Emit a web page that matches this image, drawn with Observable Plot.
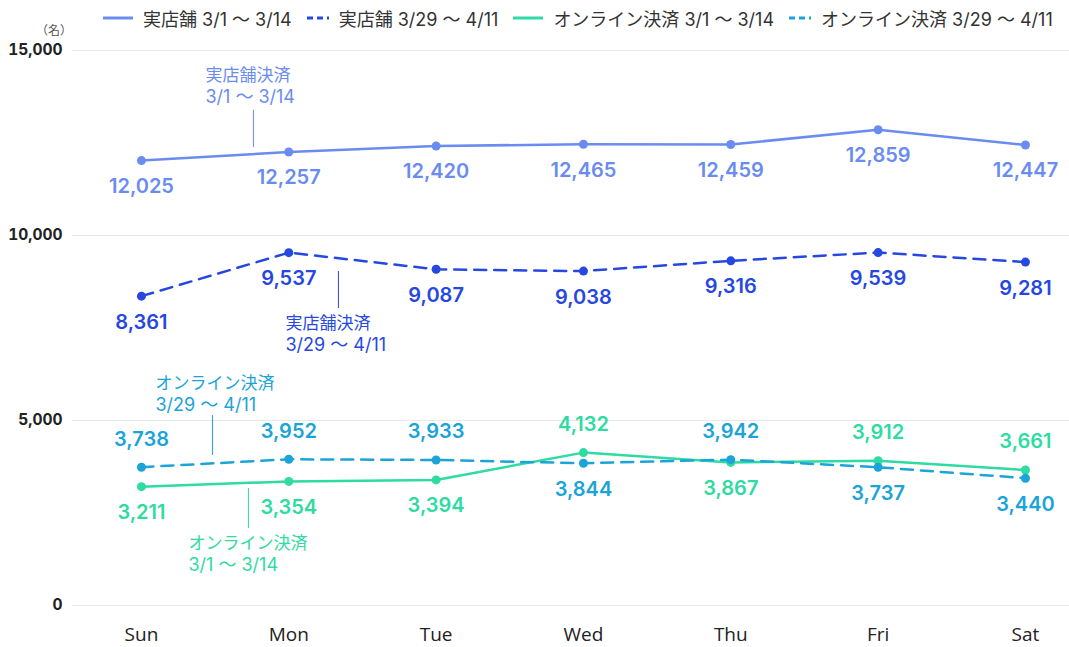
<!DOCTYPE html>
<html>
<head>
<meta charset="utf-8">
<script src="https://cdn.jsdelivr.net/npm/d3@7"></script>
<script src="https://cdn.jsdelivr.net/npm/@observablehq/plot@0.6"></script>
<style>
  html, body { margin: 0; padding: 0; background: #fff; }
  body { width: 1069px; height: 647px; position: relative; overflow: hidden;
         font-family: Inter, "Noto Sans CJK JP", sans-serif; }
  #legend { position: absolute; top: 5px; left: 103px; display: flex; align-items: center;
            font-size: 18px; color: #333; white-space: nowrap; }
  .item { display: flex; align-items: center; margin-right: 15px; }
  .item svg { margin-right: 10px; }
  #unit { position: absolute; top: 21px; left: 36px; font-size: 12px; color: #555; font-family: "Noto Sans CJK JP", sans-serif; }
</style>
</head>
<body>
<div id="chart"></div>
<div id="legend"></div>
<div id="unit">（名）</div>
<script>
const days = ["Sun", "Mon", "Tue", "Wed", "Thu", "Fri", "Sat"];
const storeEarly  = [12025, 12257, 12420, 12465, 12459, 12859, 12447];
const storeLate   = [8361, 9537, 9087, 9038, 9316, 9539, 9281];
const onlineEarly = [3211, 3354, 3394, 4132, 3867, 3912, 3661];
const onlineLate  = [3738, 3952, 3933, 3844, 3942, 3737, 3440];
const yTicks = [0, 5000, 10000, 15000];

const seriesNames = ["実店舗 3/1 ～ 3/14", "実店舗 3/29 ～ 4/11", "オンライン決済 3/1 ～ 3/14", "オンライン決済 3/29 ～ 4/11"];
const seriesColors = ["#6a8cf0", "#2648e0", "#2edba2", "#1ba4d8"];
const seriesDashed = [false, true, false, true];
const seriesValues = [storeEarly, storeLate, onlineEarly, onlineLate];

// annotation texts and anchors (x in day index, y in value units)
const annotLines1 = ["実店舗決済", "実店舗決済", "オンライン決済", "オンライン決済"];
const annotLines2 = ["3/1 ～ 3/14", "3/29 ～ 4/11", "3/1 ～ 3/14", "3/29 ～ 4/11"];
const annotTextX = [0.434, 0.977, 0.319, 0.095];
const annotTextY = [14324, 7622, 1676, 6000];
const annotLineX = [0.76, 1.337, 0.726, 0.482];
const annotLineY1 = [13378, 9027, 3162, 5135];
const annotLineY2 = [12378, 8027, 2081, 4054];

const rows = [];
seriesValues.forEach((vals, s) => {
  vals.forEach((v, i) => {
    let above = false;
    if (s === 2) above = v > onlineLate[i];
    if (s === 3) above = v >= onlineEarly[i];
    rows.push({series: s, day: i, value: v, above});
  });
});

const annots = annotLines1.map((t, k) => ({
  k, t1: t, t2: annotLines2[k], tx: annotTextX[k], ty: annotTextY[k],
  lx: annotLineX[k], ly1: annotLineY1[k], ly2: annotLineY2[k]
}));

const fmt = d3.format(",");
const numFont = "Inter, 'Noto Sans', sans-serif";
const marks = [
  Plot.ruleY(yTicks, {stroke: "#e8e8e8", strokeWidth: 1}),
];
seriesValues.forEach((vals, s) => {
  const data = rows.filter(r => r.series === s);
  marks.push(Plot.line(data, {x: "day", y: "value", stroke: seriesColors[s], strokeWidth: 2.5,
    strokeDasharray: seriesDashed[s] ? "12,8" : null}));
  marks.push(Plot.dot(data, {x: "day", y: "value", fill: seriesColors[s], r: 4.5}));
  marks.push(Plot.text(data.filter(d => !d.above), {x: "day", y: "value", text: d => fmt(d.value),
    fill: seriesColors[s], dy: 26, fontSize: 20, fontWeight: 600, fontFamily: numFont}));
  marks.push(Plot.text(data.filter(d => d.above), {x: "day", y: "value", text: d => fmt(d.value),
    fill: seriesColors[s], dy: -28, fontSize: 20, fontWeight: 600, fontFamily: numFont}));
});
marks.push(Plot.ruleX(annots, {x: "lx", y1: "ly1", y2: "ly2", stroke: d => seriesColors[d.k], strokeWidth: 1}));
marks.push(Plot.text(annots, {x: "tx", y: "ty", text: "t1", textAnchor: "start", fill: d => seriesColors[d.k], fontSize: 17, fontFamily: "Inter, 'Noto Sans CJK JP', sans-serif"}));
marks.push(Plot.text(annots, {x: "tx", y: d => d.ty - 595, text: "t2", textAnchor: "start", fill: d => seriesColors[d.k], fontSize: 18, fontFamily: "Inter, 'Noto Sans CJK JP', sans-serif"}));

const chart = Plot.plot({
  width: 1069,
  height: 647,
  marginTop: 50,
  marginBottom: 42,
  marginLeft: 72,
  marginRight: 0,
  style: {fontFamily: "Inter, 'Noto Sans CJK JP', sans-serif", background: "#fff"},
  x: {type: "linear", domain: [-0.468, 6.299], label: null},
  y: {domain: [0, 15000], label: null},
  marks: [
    ...marks,
    Plot.axisX({ticks: d3.range(days.length), tickFormat: i => days[i], tickSize: 0, tickPadding: 22, fontSize: 19, fill: "#222", fontFamily: "'Open Sans', sans-serif", fontStretch: "condensed"}),
    Plot.axisY({ticks: yTicks, tickFormat: fmt, tickSize: 0, tickPadding: 10, fontSize: 15.5, fontWeight: 700, fill: "#222", fontFamily: "Inter, sans-serif"})
  ]
});
document.getElementById("chart").appendChild(chart);

const legend = document.getElementById("legend");
seriesNames.forEach((name, s) => {
  const item = document.createElement("div");
  item.className = "item";
  const dash = seriesDashed[s] ? 'stroke-dasharray="6,4"' : "";
  const w = seriesDashed[s] ? 22 : 30;
  item.innerHTML = `<svg width="${w}" height="10"><line x1="0" y1="5" x2="${w}" y2="5" stroke="${seriesColors[s]}" stroke-width="3" ${dash}/></svg><span>${name}</span>`;
  legend.appendChild(item);
});
</script>
</body>
</html>
